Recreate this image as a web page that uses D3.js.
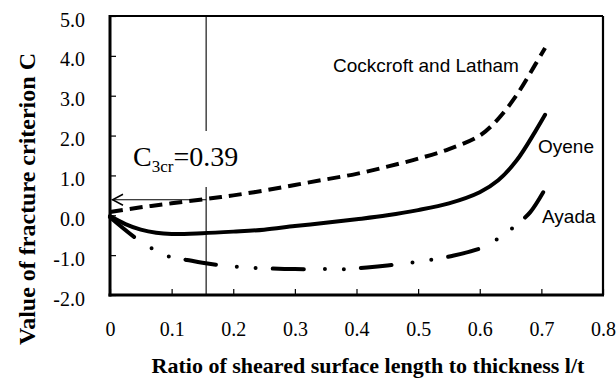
<!DOCTYPE html>
<html>
<head>
<meta charset="utf-8">
<script src="https://cdn.jsdelivr.net/npm/d3@7"></script>
<style>
  html, body { margin: 0; padding: 0; background: #fff; }
  svg { display: block; }
</style>
</head>
<body>
<svg id="chart" width="616" height="383"></svg>
<script>
// Ratio of sheared surface length to thickness (l/t) and fracture criterion values
const ltCockcroft = [0, 0.05, 0.1, 0.156, 0.2, 0.25, 0.3, 0.35, 0.4, 0.45, 0.5, 0.55, 0.6, 0.63, 0.66, 0.69, 0.706];
const cCockcroft  = [0.08, 0.2, 0.3, 0.41, 0.5, 0.62, 0.76, 0.9, 1.04, 1.22, 1.42, 1.66, 2.0, 2.42, 3.02, 3.78, 4.2];

const ltOyene = [0, 0.025, 0.05, 0.075, 0.1, 0.15, 0.2, 0.25, 0.3, 0.35, 0.4, 0.45, 0.5, 0.55, 0.6, 0.63, 0.66, 0.69, 0.706];
const cOyene  = [-0.02, -0.22, -0.36, -0.44, -0.47, -0.45, -0.41, -0.36, -0.27, -0.19, -0.1, 0.0, 0.13, 0.3, 0.58, 0.88, 1.38, 2.1, 2.52];

const ltAyada = [0, 0.044, 0.07, 0.097, 0.125, 0.15, 0.178, 0.211, 0.25, 0.3, 0.35, 0.384, 0.417, 0.45, 0.498, 0.555, 0.606, 0.633, 0.657, 0.682, 0.706];
const cAyada  = [-0.05, -0.6, -0.85, -1.04, -1.12, -1.19, -1.25, -1.3, -1.33, -1.35, -1.35, -1.35, -1.31, -1.26, -1.17, -1.02, -0.8, -0.55, -0.27, 0.08, 0.66];

const seriesNames = ["Cockcroft and Latham", "Oyene", "Ayada"];

const xTicks = [0, 0.1, 0.2, 0.3, 0.4, 0.5, 0.6, 0.7, 0.8];
const xTickLabels = ["0", "0.1", "0.2", "0.3", "0.4", "0.5", "0.6", "0.7", "0.8"];
const yTicks = [-2, -1, 0, 1, 2, 3, 4, 5];
const yTickLabels = ["-2.0", "-1.0", "0.0", "1.0", "2.0", "3.0", "4.0", "5.0"];

// Critical point: l/t at fracture and the critical Cockcroft-Latham value
const ltCritical = 0.156;
const c3cr = 0.39;

const svg = d3.select("#chart");
const W = 616, H = 383;
const margin = { left: 110, top: 16, right: 13, bottom: 88 };
const innerW = W - margin.left - margin.right;
const innerH = H - margin.top - margin.bottom;

const x = d3.scaleLinear().domain([0, 0.8]).range([margin.left, margin.left + innerW]);
const y = d3.scaleLinear().domain([-2, 5]).range([margin.top + innerH, margin.top]);

const serif = "'Liberation Serif', 'Times New Roman', serif";
const sans = "'Liberation Sans', Arial, sans-serif";

// Axes with inward ticks
const yAxis = d3.axisLeft(y)
  .tickValues(yTicks)
  .tickFormat((d, i) => yTickLabels[i])
  .tickSizeInner(-6)
  .tickSizeOuter(0)
  .tickPadding(25);
const gy = svg.append("g").attr("transform", `translate(${margin.left},0)`).call(yAxis);
gy.select(".domain").remove();
gy.selectAll(".tick line").attr("stroke", "#000").attr("stroke-width", 1.2);
gy.selectAll(".tick text")
  .attr("font-family", serif).attr("font-size", 20).attr("fill", "#000")
  .attr("dy", "0.5em");

const xAxis = d3.axisBottom(x)
  .tickValues(xTicks)
  .tickFormat((d, i) => xTickLabels[i])
  .tickSizeInner(-6)
  .tickSizeOuter(0)
  .tickPadding(27);
const gx = svg.append("g").attr("transform", `translate(0,${margin.top + innerH})`).call(xAxis);
gx.select(".domain").remove();
gx.selectAll(".tick line").attr("stroke", "#000").attr("stroke-width", 1.2);
gx.selectAll(".tick text")
  .attr("font-family", serif).attr("font-size", 20).attr("fill", "#000");

// Plot frame: heavier left and bottom edges
const x0 = x(0), x1 = x(0.8), yT = y(5), yB = y(-2);
svg.append("line").attr("x1", x0).attr("x2", x1).attr("y1", yT).attr("y2", yT)
  .attr("stroke", "#000").attr("stroke-width", 2);
svg.append("line").attr("x1", x1).attr("x2", x1).attr("y1", yT).attr("y2", yB)
  .attr("stroke", "#000").attr("stroke-width", 2.2);
svg.append("line").attr("x1", x0).attr("x2", x0).attr("y1", yT - 1).attr("y2", yB + 1.5)
  .attr("stroke", "#000").attr("stroke-width", 3);
svg.append("line").attr("x1", x0 - 1.5).attr("x2", x1 + 1).attr("y1", yB).attr("y2", yB)
  .attr("stroke", "#000").attr("stroke-width", 3);

// Vertical marker at the critical l/t
svg.append("line")
  .attr("x1", x(ltCritical)).attr("x2", x(ltCritical))
  .attr("y1", yT).attr("y2", yB)
  .attr("stroke", "#000").attr("stroke-width", 1.1);

// Arrow pointing to the critical value on the C axis (open head, tip at line end)
svg.append("defs").append("marker")
  .attr("id", "openArrow")
  .attr("viewBox", "-13 -7 14 14")
  .attr("refX", 0).attr("refY", 0)
  .attr("markerUnits", "userSpaceOnUse")
  .attr("markerWidth", 14).attr("markerHeight", 14)
  .attr("orient", "auto")
  .append("path")
  .attr("d", "M-11,-5.5L-0.5,0L-11,5.5")
  .attr("fill", "none").attr("stroke", "#000").attr("stroke-width", 1.5);

svg.append("line")
  .attr("x1", x(ltCritical)).attr("x2", x(0) + 2)
  .attr("y1", y(c3cr)).attr("y2", y(c3cr))
  .attr("stroke", "#000").attr("stroke-width", 1.2)
  .attr("marker-end", "url(#openArrow)");

// Curves
const line = d3.line()
  .x(d => x(d[0]))
  .y(d => y(d[1]))
  .curve(d3.curveCatmullRom.alpha(0.5));

const curves = [
  { name: seriesNames[0], lt: ltCockcroft, c: cCockcroft, dash: "13 7", cap: "butt" },
  { name: seriesNames[1], lt: ltOyene, c: cOyene, dash: null, cap: "round" },
  { name: seriesNames[2], lt: ltAyada, c: cAyada, dash: "31 21 0 19 0 17", cap: "round" }
];

curves.forEach(s => {
  const pts = s.lt.map((v, i) => [v, s.c[i]]);
  const p = svg.append("path")
    .attr("d", line(pts))
    .attr("fill", "none")
    .attr("stroke", "#000")
    .attr("stroke-width", 4)
    .attr("stroke-linecap", s.cap)
    .attr("stroke-linejoin", "round");
  if (s.dash) p.attr("stroke-dasharray", s.dash);
});

// Critical value label, on a white box that interrupts the marker line
const labelG = svg.append("g");
labelG.append("rect")
  .attr("x", 128).attr("y", 131).attr("width", 114).attr("height", 56)
  .attr("fill", "#fff");
const lbl = labelG.append("text")
  .attr("x", 133).attr("y", 166)
  .attr("font-family", serif).attr("font-size", 28).attr("fill", "#000");
lbl.append("tspan").text("C");
lbl.append("tspan").attr("font-size", 17).attr("dy", 6).text("3cr");
lbl.append("tspan").attr("dy", -6).text("=" + c3cr.toFixed(2));

// Curve names
const nameLabels = [
  { text: seriesNames[0], x: 333, y: 72 },
  { text: seriesNames[1], x: 538, y: 153 },
  { text: seriesNames[2], x: 542, y: 223 }
];
svg.selectAll("text.series-name")
  .data(nameLabels)
  .enter().append("text")
  .attr("class", "series-name")
  .attr("x", d => d.x).attr("y", d => d.y)
  .attr("font-family", sans).attr("font-size", 19).attr("fill", "#000")
  .text(d => d.text);

// Axis titles
svg.append("text")
  .attr("x", 368).attr("y", 373)
  .attr("text-anchor", "middle")
  .attr("font-family", serif).attr("font-weight", "bold").attr("font-size", 22)
  .attr("fill", "#000")
  .text("Ratio of sheared surface length to thickness l/t");

svg.append("text")
  .attr("transform", "translate(35,199) rotate(-90)")
  .attr("text-anchor", "middle")
  .attr("font-family", serif).attr("font-weight", "bold").attr("font-size", 24)
  .attr("fill", "#000")
  .text("Value of fracture criterion C");
</script>
</body>
</html>
